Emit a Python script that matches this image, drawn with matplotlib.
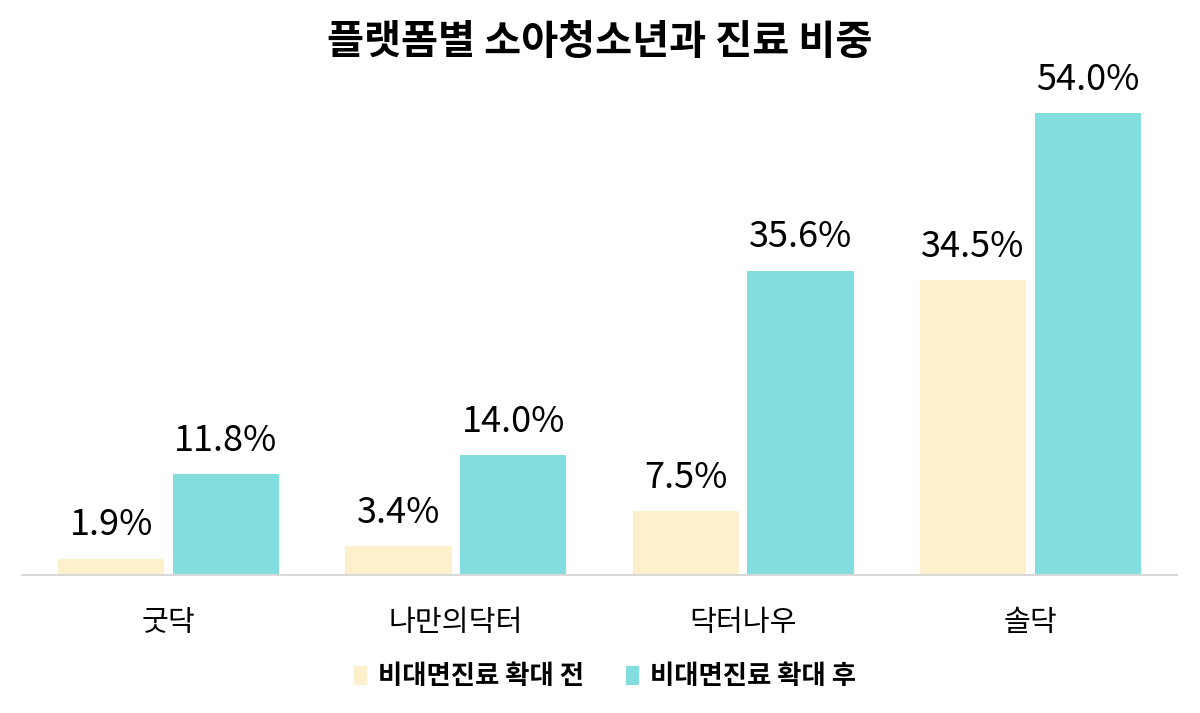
import matplotlib.pyplot as plt
import numpy as np

plt.rcParams['font.family'] = ['Noto Sans CJK KR', 'DejaVu Sans']

# --- 데이터 ---
platforms = ['굿닥', '나만의닥터', '닥터나우', '솔닥']
before = [1.9, 3.4, 7.5, 34.5]
after = [11.8, 14.0, 35.6, 54.0]
series_names = ['비대면진료 확대 전', '비대면진료 확대 후']
title = '플랫폼별 소아청소년과 진료 비중'

col_before = '#FFF0CD'
col_after = '#82DDDF'

fig = plt.figure(figsize=(12, 7.13), dpi=100)
ax = fig.add_axes([22 / 1200, 1 - 575 / 713, 1155 / 1200, 513 / 713])

x = np.arange(len(platforms))
w = 0.37
off = 0.2
b1 = ax.bar(x - off, before, w, color=col_before, label=series_names[0])
b2 = ax.bar(x + off, after, w, color=col_after, label=series_names[1])

for bars, vals in ((b1, before), (b2, after)):
    for rect, v in zip(bars, vals):
        ax.annotate(f'{v:.1f}%', (rect.get_x() + rect.get_width() / 2, v),
                    xytext=(0, 11), textcoords='offset points',
                    ha='center', va='bottom', fontsize=26)

ax.set_xlim(-0.51, 3.51)
ax.set_ylim(0, 60)
ax.set_yticks([])
ax.set_xticks(x)
ax.set_xticklabels(platforms, fontsize=21)
ax.tick_params(axis='x', length=0, pad=24)
for s in ['top', 'right', 'left']:
    ax.spines[s].set_visible(False)
ax.spines['bottom'].set_color('#D9D9D9')
ax.spines['bottom'].set_linewidth(1.5)

fig.text(0.5, 1 - 42 / 713, title, ha='center', va='center',
         fontsize=29, fontweight='bold')

leg = fig.legend(loc='center', bbox_to_anchor=(605 / 1200, 1 - 677 / 713), ncol=2,
                 frameon=False, prop={'size': 19, 'weight': 'bold'},
                 handlelength=0.5, handleheight=0.7, handletextpad=0.4,
                 columnspacing=1.6)

fig.savefig('out.png', dpi=100)
